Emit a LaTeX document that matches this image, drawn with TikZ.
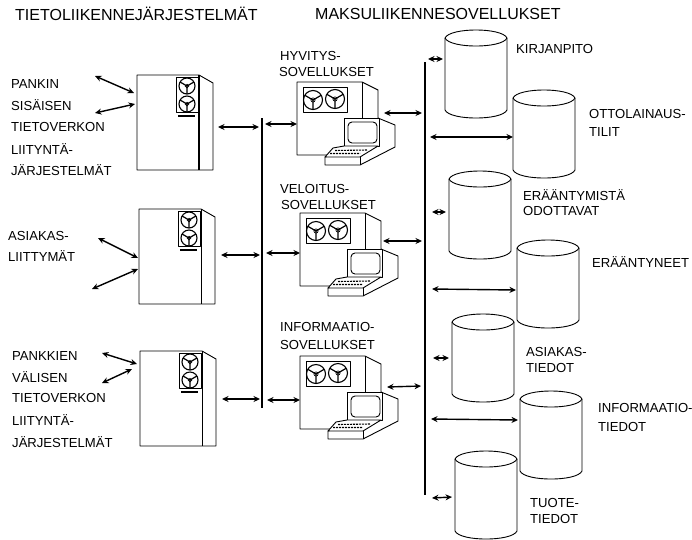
\documentclass[tikz,border=0pt]{standalone}
\usepackage{fontspec}
\setmainfont{Liberation Sans}
\usetikzlibrary{arrows.meta}
\tikzset{
  lbl/.style={anchor=west,inner sep=0pt,font=\fontsize{13.1}{15}\selectfont},
  ttl/.style={anchor=west,inner sep=0pt,font=\fontsize{16}{18}\selectfont},
  link/.style={line width=1.4pt,{Stealth[length=6.5pt,width=6pt]}-{Stealth[length=6.5pt,width=6pt]}},
  bus/.style={line width=2pt},
  part/.style={line width=0.9pt,line join=round},
  pics/fan/.style={code={
    \draw[line width=1.1pt] (0,0) circle[radius=#1];
    \draw[line width=0.7pt] (0,0) circle[radius=0.22*#1];
    \draw[line width=1.2pt] (0,0) -- (90:#1) (0,0) -- (210:#1) (0,0) -- (330:#1);
  }},
  pics/server/.style={code={
    \draw[part,fill=white] (0,0) -- (62,0) -- (76,8) -- (76,95) -- (0,95) -- cycle;
    \draw[line width=#1] (62,0) -- (62,95);
    \draw[part] (39,2) rectangle (61,37);
    \pic at (50,11) {fan=8};
    \pic at (50,29) {fan=8};
    \fill (41,40) rectangle (58,42);
  }},
  pics/workstation/.style={code={
    \draw[part,fill=white] (0,0) -- (65,0) -- (81,8) -- (81,36) -- (98,43) -- (98,65) -- (63,83) -- (28,83) -- (28,75) -- (36,73) -- (0,73) -- cycle;
    \draw[part] (65,0) -- (65,36);
    \draw[part] (6,5) rectangle (50,30);
    \pic at (16,18) {fan=9.5};
    \pic at (38,17) {fan=9.5};
    \draw[part,fill=white] (47,36) rectangle (82,64);
    \draw[part,rounded corners=4pt] (51,40) rectangle (80,61);
    \draw[part,fill=white] (28,75) -- (36,66) -- (47,64) -- (81,64) -- (63,75) -- cycle;
    \draw[part] (63,75) -- (63,83);
    \draw[line width=1.1pt,dash pattern=on 2pt off 1pt] (38,68.5) -- (70,68) (33,71.5) -- (63,71.5);
  }},
  pics/drum/.style={code={
    \draw[part,fill=white] (0,8) .. controls (5,-2.7) and (57,-2.7) .. (62,8) -- (62,80) .. controls (57,90.7) and (5,90.7) .. (0,80) -- cycle;
    \draw[part] (0,8) .. controls (5,18.7) and (57,18.7) .. (62,8);
  }}
}
\begin{document}
\begin{tikzpicture}[x=1pt,y=-1pt]
\useasboundingbox (0,0) rectangle (692,539);
% titles
\node[ttl] (t1) at (15,14) {TIETOLIIKENNEJÄRJESTELMÄT};
\node[ttl] (t2) at (315,14) {MAKSULIIKENNESOVELLUKSET};
% left labels
\node[lbl] (a1) at (11,84) {PANKIN};
\node[lbl] (a2) at (11,105) {SISÄISEN};
\node[lbl] (a3) at (11,127) {TIETOVERKON};
\node[lbl] (a4) at (11,149) {LIITYNTÄ-};
\node[lbl] (a5) at (11,170) {JÄRJESTELMÄT};
\node[lbl] (b1) at (8,236) {ASIAKAS-};
\node[lbl] (b2) at (8,256) {LIITTYMÄT};
\node[lbl] (d1) at (12,356) {PANKKIEN};
\node[lbl] (d2) at (12,377) {VÄLISEN};
\node[lbl] (d3) at (12,398) {TIETOVERKON};
\node[lbl] (d4) at (12,420) {LIITYNTÄ-};
\node[lbl] (d5) at (12,442) {JÄRJESTELMÄT};
% application labels
\node[lbl] (e1) at (280,56) {HYVITYS-};
\node[lbl] (e2) at (279,72) {SOVELLUKSET};
\node[lbl] (f1) at (280,189) {VELOITUS-};
\node[lbl] (f2) at (281,205) {SOVELLUKSET};
\node[lbl] (g1) at (280,327) {INFORMAATIO-};
\node[lbl] (g2) at (280,345) {SOVELLUKSET};
% store labels
\node[lbl] (h1) at (516,49) {KIRJANPITO};
\node[lbl] (h2) at (589,114) {OTTOLAINAUS-};
\node[lbl] (h3) at (589,132) {TILIT};
\node[lbl] (h4) at (523,195) {ERÄÄNTYMISTÄ};
\node[lbl] (h5) at (523,211) {ODOTTAVAT};
\node[lbl] (h6) at (592,262) {ERÄÄNTYNEET};
\node[lbl] (h7) at (526,352) {ASIAKAS-};
\node[lbl] (h8) at (526,368) {TIEDOT};
\node[lbl] (h9) at (598,408) {INFORMAATIO-};
\node[lbl] (h10) at (598,427) {TIEDOT};
\node[lbl] (h11) at (530,503) {TUOTE-};
\node[lbl] (h12) at (530,519) {TIEDOT};
% machines
\pic at (137,75) {server=1.5pt};
\pic at (139,209) {server=0.9pt};
\pic at (140,351) {server=0.9pt};
\pic at (297,82) {workstation};
\pic at (300,213) {workstation};
\pic at (300,356) {workstation};
\pic at (445,30) {drum};
\pic at (513,90) {drum};
\pic at (449,171) {drum};
\pic at (517,240) {drum};
\pic at (452,314) {drum};
\pic at (520,391) {drum};
\pic at (455,451) {drum};
% buses
\coordinate (bl1) at (262,118); \coordinate (bl2) at (262,408);
\coordinate (br1) at (425,62); \coordinate (br2) at (425,495);
\draw[bus] (bl1) -- (bl2);
\draw[bus,line width=2.4pt] (br1) -- (br2);
% connector ends
\foreach \n/\x/\y in {p1/95/76,p2/134/93,p3/95/113,p4/135/104,
  p5/98/238,p6/138/258,p7/92/289,p8/138/269,
  p9/102/353,p10/137/364,p11/102/383,p12/132/369,
  q1/218/127,q2/259/127,q3/221/255,q4/260/255,q5/222/399,q6/260/399,
  r1/265/124,r2/297/124,r3/266/253,r4/300/253,r5/267/400,r6/300/400,
  u1/384/113,u2/422/113,u3/383/241,u4/422/241,u5/387/387,u6/421/386,
  v1/428/59,v2/443/59,v3/430/137,v4/513/137,v5/432/212,v6/446/212,
  v7/432/289,v8/516/290,v9/433/358,v10/449/358,v11/431/419,v12/518/420,
  v13/432/498,v14/452/497}
  {\coordinate (\n) at (\x,\y);}
\foreach \a/\b in {p1/p2,p3/p4,p5/p6,p7/p8,p9/p10,p11/p12,
  q1/q2,q3/q4,q5/q6,r1/r2,r3/r4,r5/r6,u1/u2,u3/u4,u5/u6,
  v1/v2,v3/v4,v5/v6,v7/v8,v9/v10,v11/v12,v13/v14}
  {\draw[link] (\a) -- (\b);}
\end{tikzpicture}
\end{document}
